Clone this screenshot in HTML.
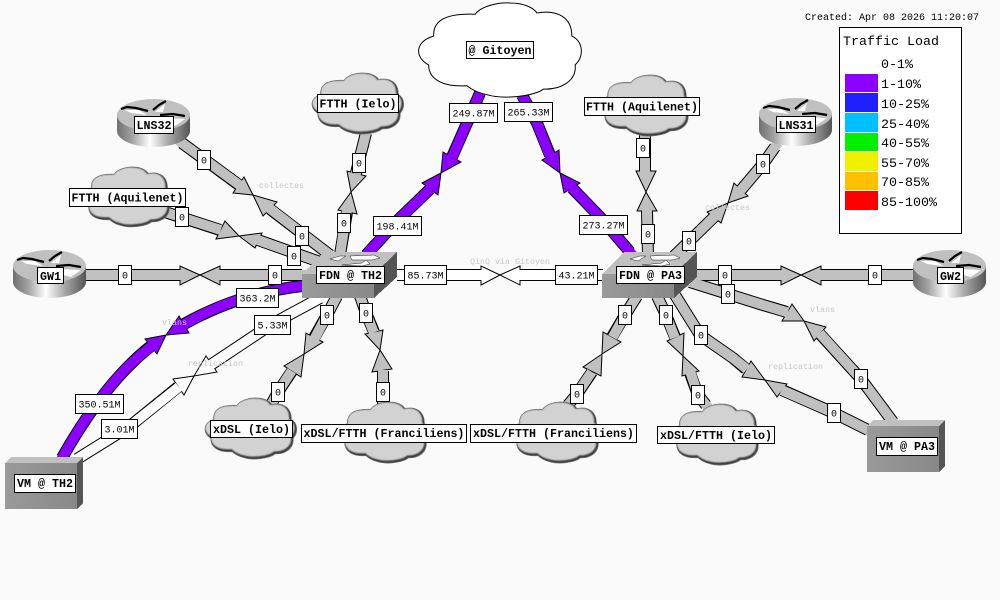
<!DOCTYPE html>
<html><head><meta charset="utf-8"><title>Network weathermap</title>
<style>
html,body{margin:0;padding:0;background:#fafafa;width:1000px;height:600px;overflow:hidden}
svg{display:block}
text{font-family:"Liberation Mono",monospace;fill:#000}
.o{fill:none;stroke:#000;stroke-width:12;stroke-linejoin:round}
.i{fill:none;stroke-width:10;stroke-linejoin:round;stroke-linecap:square}
.b{font-size:11.67px;font-weight:bold;text-anchor:middle}
.v{font-size:10px;text-anchor:middle}
.f{font-size:8.33px;fill:#c8c8c8}
.l{font-size:13.33px}
.r{fill:#fff;stroke:#000;stroke-width:1.2;shape-rendering:crispEdges}
.s{shape-rendering:crispEdges}
</style></head><body>
<svg width="1000" height="600" viewBox="0 0 1000 600" xmlns="http://www.w3.org/2000/svg">
<defs>
<linearGradient id="rg" x1="0" y1="0" x2="1" y2="0"><stop offset="0" stop-color="#707070"/><stop offset=".2" stop-color="#a0a0a0"/><stop offset=".45" stop-color="#fff"/><stop offset=".7" stop-color="#aaa"/><stop offset="1" stop-color="#555"/></linearGradient>
<linearGradient id="fg" x1="0" y1="0" x2="1" y2="0"><stop offset="0" stop-color="#9a9a9a"/><stop offset="1" stop-color="#888"/></linearGradient>
<filter id="bl" x="-20%" y="-20%" width="140%" height="140%"><feGaussianBlur stdDeviation="4"/></filter>
<path id="cp" d="M100 108C98 65 130 38 225 42C240 20 290 5 330 8C370 8 400 22 410 38C470 28 515 50 515 108C550 125 552 170 525 195C530 245 480 270 430 268C400 290 310 300 260 285C235 280 215 270 200 258C130 262 85 240 85 195C45 175 40 125 100 108Z"/>
<clipPath id="cc"><use href="#cp"/></clipPath>
<g id="cl">
<use href="#cp" fill="#d2d2d2"/>
<g clip-path="url(#cc)"><use href="#cp" transform="translate(-5 -5)" fill="none" stroke="#333" stroke-width="13" filter="url(#bl)"/></g>
<use href="#cp" fill="none" stroke="#777" stroke-width="3"/>
</g>
<g id="rt">
<rect x="0" y="16" width="73" height="16" fill="url(#rg)"/>
<ellipse cx="36.5" cy="32" rx="36.5" ry="16" fill="url(#rg)"/>
<ellipse cx="36.5" cy="16" rx="36.5" ry="16" fill="#c0c0c0"/>
<path d="M8 11L22 11L30 16L14 14ZM38 13L48 5L46 13ZM44 19L68 20L58 27L46 24Z" fill="#fff"/>
<path d="M4 10L10 8L19 9L31 12M36 11L42 6L49 2M43 16L56 15L68 17" fill="none" stroke="#000" stroke-width="2.2"/>
</g>
<g id="sw">
<polygon points="0,22 22,0 95,0 72,22" fill="#c0c0c0" class="s"/>
<rect x="0" y="22" width="72" height="24" fill="url(#fg)" class="s"/>
<polygon points="72,22 95,0 95,25 72,46" fill="#555" class="s"/>
<path d="M28 7L38 4L44 4L36 9ZM48 4L72 3L78 6L70 8L50 8ZM40 13L60 11L64 8L68 12L60 14Z" fill="#fff" stroke="#222" stroke-width=".5"/>
</g>
</defs>
<rect width="1000" height="600" fill="#fafafa"/>

<!-- link outlines -->
<path class="o" d="M86 275H181M302 275H220M913 275H821M697 275H781M182 143L239 185M330 255L270 209M165 212L220 230M320 262L258 240M366 133L356 173M340 255L347 212M645 135V171M648 255L647 211M775 147L763 164L741 190M668 262L714 217M337 296L327 315L314 338M272 403L278 392L292 371M360 296L366 313L374 332M383 405V371M637 296L625 315L612 337M568 405L577 394L592 372M657 296L666 315L675 337M706 405L698 395L690 373M675 295L700 335L733 358L746 369M868 430L834 413L782 390M690 282L728 294L763 305L787 312M893 422L861 379L820 334"/>
<path class="o" d="M480 93L467 123L452 157M366 255L398 220L430 189M522 95L537 123L550 155M630 252L600 217L572 188M62 458Q105 382 151 346M302 286Q240 293 184 324"/>
<path class="o" d="M397 275H481M603 275H520M77 459L130 426L178 387M320 298L272 324L212 364"/>

<!-- arrow heads -->
<g fill="#c0c0c0" stroke="#000" stroke-width="1" stroke-linejoin="miter">
<polygon points="200,275 180,266 180,285"/><polygon points="200,275 220,266 220,285"/>
<polygon points="801,275 781,266 781,285"/><polygon points="801,275 821,266 821,285"/>
<polygon points="253,195 244,177 233,193"/><polygon points="253,195 277,202 263,216"/>
<polygon points="239,236 225,221 216,239"/><polygon points="239,236 262,233 255,248"/>
<polygon points="351,192 347,171 366,176"/><polygon points="351,192 338,210 357,214"/>
<polygon points="646,192 636,171 656,171"/><polygon points="646,192 637,211 657,211"/>
<polygon points="728,203 734,183 748,196"/><polygon points="728,203 707,212 721,223"/>
<polygon points="304,354 306,333 323,342"/><polygon points="304,354 284,366 301,377"/>
<polygon points="380,350 365,334 383,330"/><polygon points="380,350 372,372 392,369"/>
<polygon points="602,354 603,332 621,342"/><polygon points="602,354 583,367 601,376"/>
<polygon points="683,356 667,341 684,333"/><polygon points="683,356 682,376 699,371"/>
<polygon points="765,380 751,361 742,377"/><polygon points="765,380 787,384 777,397"/>
<polygon points="804,321 792,304 782,321"/><polygon points="804,321 826,327 814,341"/>
</g>
<g fill="#8c00ff" stroke="#000" stroke-width="1">
<polygon points="441,173 443,152 461,162"/><polygon points="441,173 422,183 438,195"/>
<polygon points="560,173 542,160 559,150"/><polygon points="560,173 580,183 564,193"/>
<polygon points="166,335 145,339 157,354"/><polygon points="166,335 179,316 189,333"/>
</g>
<g fill="#fff" stroke="#000" stroke-width="1">
<polygon points="500,275 481,266 481,285"/><polygon points="500,275 520,266 520,285"/>
<polygon points="194,376 173,379 184,395"/><polygon points="194,376 206,356 217,372"/>
</g>

<!-- link fills -->
<path class="i" stroke="#c0c0c0" d="M86 275H177M302 275H224M913 275H825M697 275H777M182 143L236 182.500M330 255L273 211M165 212L216 228.500M320 262L262 241.500M366 133L357 169M340 255L346 216M645 135V167M648 255L647 215M775 147L763 164L744 186.500M668 262L711 220M337 296L327 315L317 334M272 403L278 392L289 375M360 296L366 313L372 328M383 405V375M637 296L625 315L615 333M568 405L577 394L589 376M657 296L666 315L673 333M706 405L698 395L692 377M675 295L700 335L733 358L743 366M868 430L834 413L786 392M690 282L728 294L763 305L783 311M893 422L861 379L823 337"/>
<path class="i" stroke="#8c00ff" d="M480 93L467 123L454 153M366 255L398 220L427 192M522 95L537 123L548 151M630 252L600 217L575 191M62 458Q105 382 148 349M302 286Q240 293 188 322"/>
<path class="i" stroke="#fff" d="M397 275H477M603 275H524M77 459L130 426L175 390M320 298L272 324L215 362"/>

<!-- faint link comments -->
<text class="f" x="259" y="188">collectes</text>
<text class="f" x="705" y="210">collectes</text>
<text class="f" x="162" y="325">vlans</text>
<text class="f" x="188" y="366">replication</text>
<text class="f" x="470" y="264">QinQ via Gitoyen</text>
<text class="f" x="810" y="312">vlans</text>
<text class="f" x="768" y="369">replication</text>

<!-- clouds -->
<g transform="translate(417 3) scale(.333 .331) translate(-50 -8)"><use href="#cp" fill="#fff" stroke="#000" stroke-width="3"/></g>
<use href="#cl" transform="translate(311 73) scale(.188 .215) translate(-50 -8)"/>
<use href="#cl" transform="translate(598 75) scale(.19 .215) translate(-50 -8)"/>
<use href="#cl" transform="translate(82 167) scale(.184 .211) translate(-50 -8)"/>
<use href="#cl" transform="translate(204 398) scale(.188 .215) translate(-50 -8)"/>
<use href="#cl" transform="translate(338 402) scale(.186 .215) translate(-50 -8)"/>
<use href="#cl" transform="translate(510 402) scale(.186 .215) translate(-50 -8)"/>
<use href="#cl" transform="translate(670 404) scale(.186 .215) translate(-50 -8)"/>

<!-- routers -->
<use href="#rt" x="117" y="99"/>
<use href="#rt" x="13" y="250"/>
<use href="#rt" x="759" y="98"/>
<use href="#rt" x="913" y="250"/>

<!-- switches -->
<use href="#sw" x="302" y="252"/>
<use href="#sw" x="602" y="252"/>

<!-- VM boxes -->
<g class="s">
<polygon points="5,463 11,457 83,457 77,463" fill="#c0c0c0"/>
<rect x="5" y="463" width="72" height="46" fill="url(#fg)"/>
<polygon points="77,463 83,457 83,503 77,509" fill="#555"/>
<polygon points="867,426 873,420 945,420 939,426" fill="#c0c0c0"/>
<rect x="867" y="426" width="72" height="46" fill="url(#fg)"/>
<polygon points="939,426 945,420 945,466 939,472" fill="#555"/>
</g>

<!-- value labels -->
<g>
<rect class="r" x="449.500" y="103.500" width="48" height="19"/><text class="v" x="473.500" y="116.500">249.87M</text>
<rect class="r" x="504.500" y="102.500" width="48" height="19"/><text class="v" x="528.500" y="115.500">265.33M</text>
<rect class="r" x="373.500" y="216.500" width="48" height="19"/><text class="v" x="397.500" y="229.500">198.41M</text>
<rect class="r" x="579.500" y="215.500" width="48" height="19"/><text class="v" x="603.500" y="228.500">273.27M</text>
<rect class="r" x="404.500" y="265.500" width="42" height="19"/><text class="v" x="425.500" y="278.500">85.73M</text>
<rect class="r" x="555.500" y="265.500" width="42" height="19"/><text class="v" x="576.500" y="278.500">43.21M</text>
<rect class="r" x="236.500" y="288.500" width="42" height="19"/><text class="v" x="257.500" y="301.500">363.2M</text>
<rect class="r" x="254.500" y="315.500" width="36" height="19"/><text class="v" x="272.500" y="328.500">5.33M</text>
<rect class="r" x="75.500" y="394.500" width="48" height="19"/><text class="v" x="99.500" y="407.500">350.51M</text>
<rect class="r" x="101.500" y="419.500" width="36" height="19"/><text class="v" x="119.500" y="432.500">3.01M</text>
</g>
<!-- zero labels -->
<g>
<rect class="r" x="197.500" y="150.500" width="13" height="19"/><text class="v" x="204" y="163.500">0</text>
<rect class="r" x="175.500" y="207.500" width="13" height="19"/><text class="v" x="182" y="220.500">0</text>
<rect class="r" x="118.500" y="265.500" width="13" height="19"/><text class="v" x="125" y="278.500">0</text>
<rect class="r" x="268.500" y="265.500" width="13" height="19"/><text class="v" x="275" y="278.500">0</text>
<rect class="r" x="295.500" y="226.500" width="13" height="19"/><text class="v" x="302" y="239.500">0</text>
<rect class="r" x="287.500" y="246.500" width="13" height="19"/><text class="v" x="294" y="259.500">0</text>
<rect class="r" x="352.500" y="153.500" width="13" height="19"/><text class="v" x="359" y="166.500">0</text>
<rect class="r" x="337.500" y="213.500" width="13" height="19"/><text class="v" x="344" y="226.500">0</text>
<rect class="r" x="320.500" y="305.500" width="13" height="19"/><text class="v" x="327" y="318.500">0</text>
<rect class="r" x="359.500" y="303.500" width="13" height="19"/><text class="v" x="366" y="316.500">0</text>
<rect class="r" x="271.500" y="382.500" width="13" height="19"/><text class="v" x="278" y="395.500">0</text>
<rect class="r" x="376.500" y="382.500" width="13" height="19"/><text class="v" x="383" y="395.500">0</text>
<rect class="r" x="636.500" y="138.500" width="13" height="19"/><text class="v" x="643" y="151.500">0</text>
<rect class="r" x="641.500" y="224.500" width="13" height="19"/><text class="v" x="648" y="237.500">0</text>
<rect class="r" x="682.500" y="231.500" width="13" height="19"/><text class="v" x="689" y="244.500">0</text>
<rect class="r" x="756.500" y="154.500" width="13" height="19"/><text class="v" x="763" y="167.500">0</text>
<rect class="r" x="718.500" y="265.500" width="13" height="19"/><text class="v" x="725" y="278.500">0</text>
<rect class="r" x="868.500" y="265.500" width="13" height="19"/><text class="v" x="875" y="278.500">0</text>
<rect class="r" x="721.500" y="284.500" width="13" height="19"/><text class="v" x="728" y="297.500">0</text>
<rect class="r" x="618.500" y="305.500" width="13" height="19"/><text class="v" x="625" y="318.500">0</text>
<rect class="r" x="659.500" y="305.500" width="13" height="19"/><text class="v" x="666" y="318.500">0</text>
<rect class="r" x="694.500" y="325.500" width="13" height="19"/><text class="v" x="701" y="338.500">0</text>
<rect class="r" x="854.500" y="369.500" width="13" height="19"/><text class="v" x="861" y="382.500">0</text>
<rect class="r" x="827.500" y="403.500" width="13" height="19"/><text class="v" x="834" y="416.500">0</text>
<rect class="r" x="691.500" y="385.500" width="13" height="19"/><text class="v" x="698" y="398.500">0</text>
<rect class="r" x="570.500" y="384.500" width="13" height="19"/><text class="v" x="577" y="397.500">0</text>
</g>

<!-- node labels -->
<g>
<rect class="r" x="466.500" y="41.500" width="67" height="17"/><text class="b" x="500" y="54">@ Gitoyen</text>
<rect class="r" x="317.500" y="94.500" width="81" height="18"/><text class="b" x="358" y="107.500">FTTH (Ielo)</text>
<rect class="r" x="584.500" y="97.500" width="115" height="18"/><text class="b" x="642" y="110.500">FTTH (Aquilenet)</text>
<rect class="r" x="69.500" y="188.500" width="116" height="18"/><text class="b" x="127.500" y="201.500">FTTH (Aquilenet)</text>
<rect class="r" x="134.500" y="116.500" width="39" height="17"/><text class="b" x="154" y="129">LNS32</text>
<rect class="r" x="776.500" y="116.500" width="39" height="16"/><text class="b" x="796" y="129">LNS31</text>
<rect class="r" x="37.500" y="267.500" width="26" height="16"/><text class="b" x="50.500" y="280">GW1</text>
<rect class="r" x="937.500" y="267.500" width="26" height="16"/><text class="b" x="950.500" y="280">GW2</text>
<rect class="r" x="316.500" y="266.500" width="68" height="17"/><text class="b" x="350.500" y="279">FDN @ TH2</text>
<rect class="r" x="616.500" y="266.500" width="68" height="17"/><text class="b" x="650.500" y="279">FDN @ PA3</text>
<rect class="r" x="14.500" y="474.500" width="61" height="18"/><text class="b" x="45" y="487">VM @ TH2</text>
<rect class="r" x="876.500" y="437.500" width="61" height="18"/><text class="b" x="907" y="450">VM @ PA3</text>
<rect class="r" x="210.500" y="420.500" width="82" height="17"/><text class="b" x="251.500" y="433">xDSL (Ielo)</text>
<rect class="r" x="301.500" y="424.500" width="165" height="18"/><text class="b" x="384" y="437">xDSL/FTTH (Franciliens)</text>
<rect class="r" x="470.500" y="424.500" width="166" height="18"/><text class="b" x="553.500" y="437">xDSL/FTTH (Franciliens)</text>
<rect class="r" x="657.500" y="426.500" width="117" height="17"/><text class="b" x="716" y="439">xDSL/FTTH (Ielo)</text>
</g>

<!-- legend -->
<text x="805" y="20" font-size="10" style="font-size:10px">Created: Apr 08 2026 11:20:07</text>
<rect x="839.500" y="27.500" width="122" height="206" fill="#fff" stroke="#000" stroke-width="1.2" class="s"/>
<text class="l" x="843" y="45">Traffic Load</text>
<g class="s">
<rect x="845" y="74" width="33" height="18" fill="#8c00ff"/>
<rect x="845" y="93" width="33" height="19" fill="#2020ff"/>
<rect x="845" y="113" width="33" height="19" fill="#00c0ff"/>
<rect x="845" y="133" width="33" height="18" fill="#00f000"/>
<rect x="845" y="152" width="33" height="19" fill="#f0f000"/>
<rect x="845" y="172" width="33" height="18" fill="#ffc000"/>
<rect x="845" y="191" width="33" height="19" fill="#ff0000"/>
</g>
<text class="l" x="881" y="68">0-1%</text>
<text class="l" x="881" y="88">1-10%</text>
<text class="l" x="881" y="108">10-25%</text>
<text class="l" x="881" y="128">25-40%</text>
<text class="l" x="881" y="147">40-55%</text>
<text class="l" x="881" y="167">55-70%</text>
<text class="l" x="881" y="186">70-85%</text>
<text class="l" x="881" y="206">85-100%</text>
</svg>
</body></html>
